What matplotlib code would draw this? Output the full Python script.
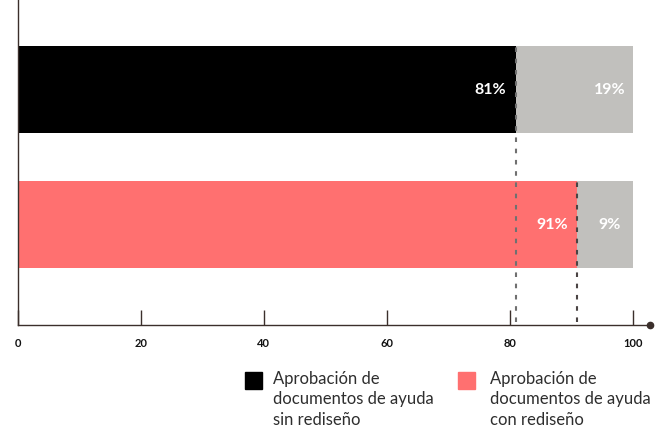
import matplotlib.pyplot as plt
from matplotlib.patches import Rectangle

# data
groups = ["sin rediseño", "con rediseño"]
approved = [81, 91]
rest = [19, 9]
colors = ["#000000", "#FF7070"]
rest_color = "#C1C0BD"
guide_colors = ["#707070", "#4A4444"]
ticks = [0, 20, 40, 60, 80, 100]
legend_labels = [
    "Aprobación de\ndocumentos de ayuda\nsin rediseño",
    "Aprobación de\ndocumentos de ayuda\ncon rediseño",
]

plt.rcParams['font.family'] = ['Lato', 'DejaVu Sans']

W, H = 658, 427
fig = plt.figure(figsize=(W / 100, H / 100), dpi=100)
# axes: left 18px, right 650px, top 0, bottom 326px
ax = fig.add_axes([18 / W, (H - 326) / H, 632 / W, 326 / H])

axis_col = "#3B2F2B"
ypos = [1, 0]  # top bar first
bar_h = 87 / 135

for y, a, r, c, gc in zip(ypos, approved, rest, colors, guide_colors):
    ax.barh(y, a, height=bar_h, color=c, zorder=2)
    ax.barh(y, r, left=a, height=bar_h, color=rest_color, zorder=2)
    ax.text(a - 1.6, y, f"{a}%", color="white", fontsize=11.5, fontweight="bold",
            ha="right", va="center", zorder=4)
    ax.text(96.2, y, f"{r}%", color="white", fontsize=11.5, fontweight="bold",
            ha="center", va="center", zorder=4)
    # dashed guide from bar top down to axis
    ax.vlines(a, -0.72, y + bar_h / 2, colors=gc, linestyles=(0, (2.2, 3.2)),
              linewidth=1.5, zorder=3)

ax.set_xlim(0, 102.8)
ax.set_ylim(-100.5 / 135, 1 + 90.5 / 135)

for s in ["top", "right"]:
    ax.spines[s].set_visible(False)
ax.spines["left"].set_color(axis_col)
ax.spines["bottom"].set_color(axis_col)
ax.spines["left"].set_linewidth(1.0)
ax.spines["bottom"].set_linewidth(1.0)

ax.set_yticks([])
ax.set_xticks(ticks)
ax.set_xticklabels([str(t) for t in ticks], fontsize=8, fontweight="bold", color="#111111")
ax.tick_params(axis="x", direction="in", length=11, width=1.0, color=axis_col, pad=9)

# dot at end of axis
ax.plot([1], [0], marker="o", markersize=4.5, color=axis_col,
        transform=ax.transAxes, clip_on=False, zorder=5)

# legend drawn manually
leg_x = [245, 458]
txt_x = [273, 490]
for lx, tx, c, lab in zip(leg_x, txt_x, colors, legend_labels):
    fig.add_artist(Rectangle((lx / W, (H - 390) / H), 17 / W, 17 / H,
                             transform=fig.transFigure, color=c))
    fig.text(tx / W, (H - 371) / H, lab, fontsize=12, color="#2E2E2E",
             ha="left", va="top", linespacing=1.34)

fig.savefig("out.png", dpi=100)
